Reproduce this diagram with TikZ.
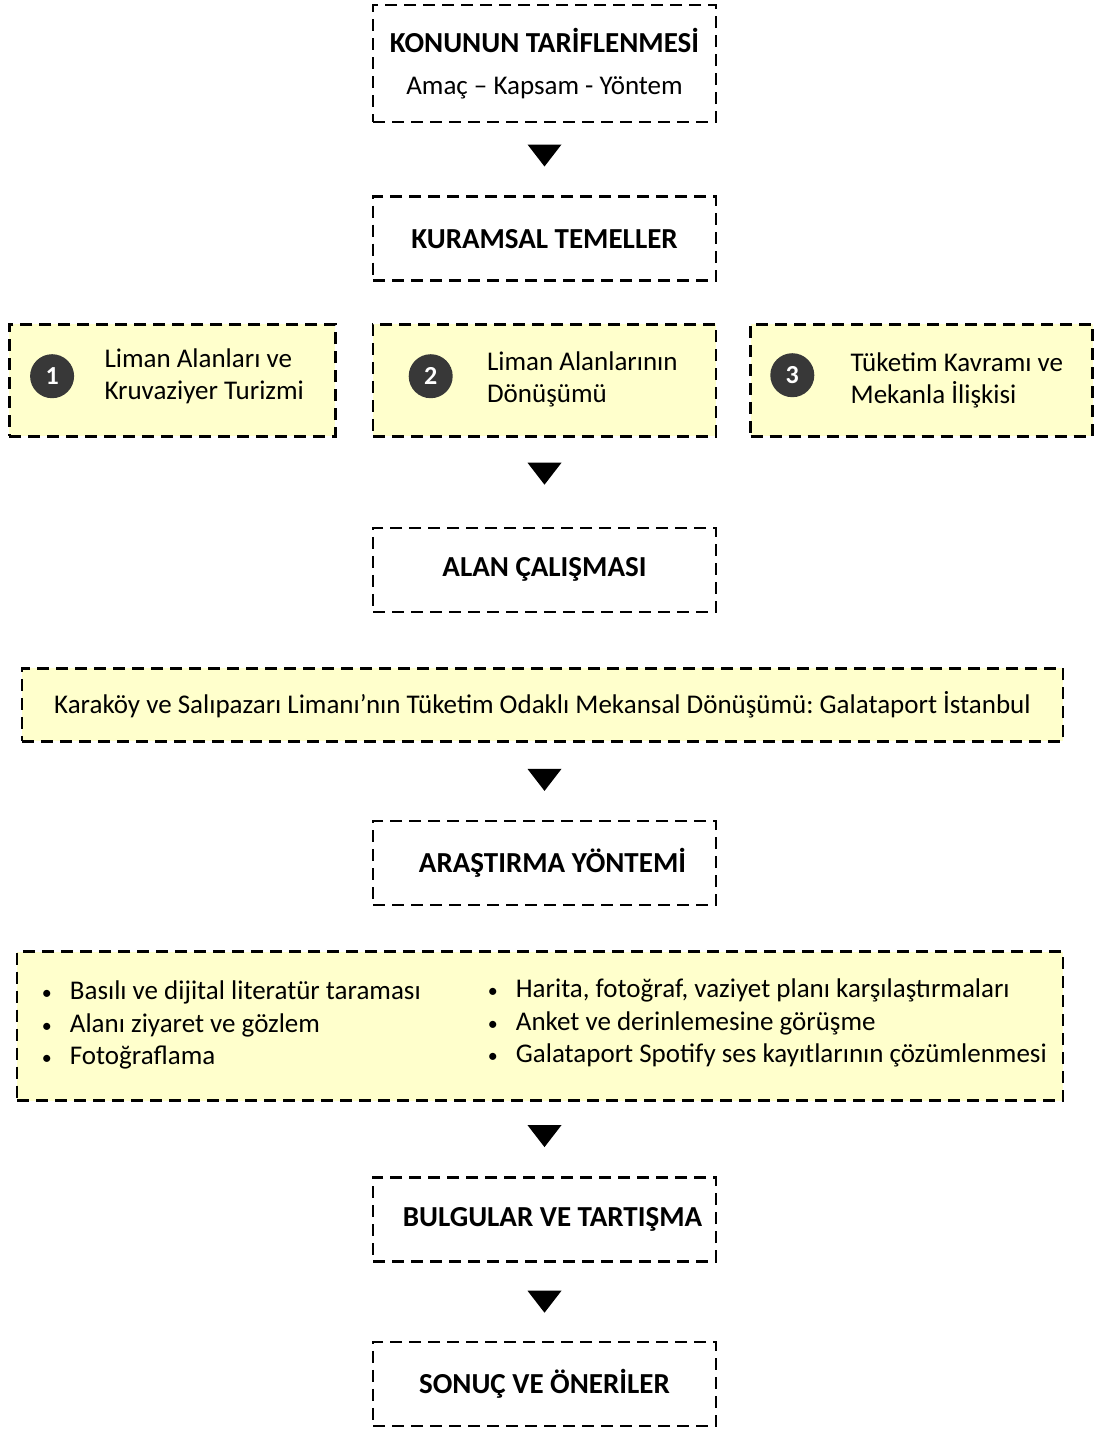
\documentclass[tikz,border=0pt]{standalone}
\usepackage{fontspec}
\setmainfont{Carlito}
\usepackage{xcolor}
\usetikzlibrary{positioning,shapes.geometric}

\definecolor{yelfill}{RGB}{255,255,204}
\newcommand{\blt}{\makebox[28pt][l]{\fontsize{20}{20}\selectfont\textbullet}}
\frenchspacing

\begin{document}
\begin{tikzpicture}[x=1pt,y=-1pt,
    box/.style={
      draw,dash pattern=on 12pt off 7pt,line width=2.6pt,
      align=center,inner sep=0pt,
      font=\fontsize{29}{36}\selectfont\bfseries,
      minimum width=343pt,minimum height=84pt},
    ybox/.style={box,fill=yelfill,font=\fontsize{27}{32.5}\selectfont},
    num/.style={circle,fill=black!78,text=white,inner sep=0pt,
      minimum size=44pt,font=\fontsize{26}{28}\selectfont\bfseries},
    txt/.style={align=left,anchor=west,inner sep=0pt,
      font=\fontsize{27}{32.5}\selectfont},
    tri/.style={isosceles triangle,isosceles triangle stretches,
      shape border rotate=270,fill=black,inner sep=0pt,
      minimum width=34pt,minimum height=22pt}
]
\useasboundingbox (0,0) rectangle (1101,1430);

\node[box,minimum height=117pt] (konu) at (544.5,63.5)
      {KONUNUN TARİFLENMESİ\\[6pt]{\mdseries\fontsize{27}{32}\selectfont Amaç – Kapsam - Yöntem}};
\node[tri,below=21pt of konu]                  (ok1) {};
\node[box,below=72pt of konu]                  (kuram) {KURAMSAL TEMELLER};

\node[ybox,below=41pt of kuram,minimum height=112pt]                  (litB) {};
\node[ybox,left=35pt of litB,minimum width=326pt,minimum height=112pt]  (litA) {};
\node[ybox,right=32pt of litB,minimum width=342pt,minimum height=112pt] (litC) {};

\node[num] (n1) at ([xshift=44pt,yshift=4pt]litA.west) {1};
\node[num] (n2) at ([xshift=59pt,yshift=4pt]litB.west) {2};
\node[num] (n3) at ([xshift=43pt,yshift=5pt]litC.west) {3};
\node[txt,right=30pt of n1]             (tA) {Liman Alanları ve\\Kruvaziyer Turizmi};
\node[txt,right=34pt of n2,yshift=-3pt] (tB) {Liman Alanlarının\\Dönüşümü};
\node[txt,right=36pt of n3,yshift=-5pt] (tC) {Tüketim Kavramı ve\\Mekanla İlişkisi};

\node[tri,below=25pt of litB]                  (ok2) {};
\node[box,below=89pt of litB]                  (alan) {ALAN ÇALIŞMASI};
\node[ybox,below=54pt of alan,xshift=-2pt,minimum width=1041pt,minimum height=73pt] (galata)
      {Karaköy ve Salıpazarı Limanı’nın Tüketim Odaklı Mekansal Dönüşümü: Galataport İstanbul};
\node[tri,below=26pt of galata,xshift=2pt]     (ok3) {};
\node[box,below=77pt of galata,xshift=2pt]     (yontem) {\hspace*{16pt}ARAŞTIRMA YÖNTEMİ};

\node[ybox,below=44pt of yontem,xshift=-4.5pt,minimum width=1046pt,minimum height=149pt] (teknik) {};
\node[txt] (tekL) at ([xshift=26pt,yshift=1pt]teknik.west)
      {\blt Basılı ve dijital literatür taraması\\
       \blt Alanı ziyaret ve gözlem\\
       \blt Fotoğraflama};
\node[txt] (tekR) at ([xshift=472pt,yshift=3pt]teknik.west)
      {\blt Harita, fotoğraf, vaziyet planı karşılaştırmaları\\
       \blt Anket ve derinlemesine görüşme\\
       \blt Galataport Spotify ses kayıtlarının çözümlenmesi};

\node[tri,below=23pt of teknik,xshift=4.5pt]   (ok4) {};
\node[box,below=74pt of teknik,xshift=4.5pt]   (bulgu) {\hspace*{16pt}BULGULAR VE TARTIŞMA};
\node[tri,below=28pt of bulgu]                 (ok5) {};
\node[box,below=78pt of bulgu]                 (sonuc) {SONUÇ VE ÖNERİLER};
\end{tikzpicture}
\end{document}
